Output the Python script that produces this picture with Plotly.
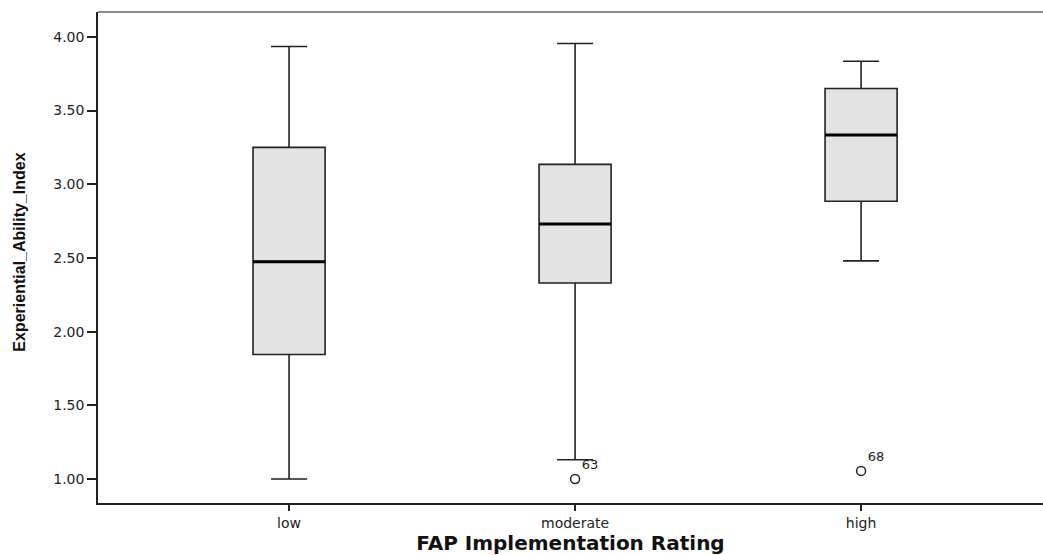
import plotly.graph_objects as go

categories = ["low", "moderate", "high"]
positions = [0, 1, 2]
lower_fence = [1.00, 1.13, 2.48]
q1 = [1.845, 2.33, 2.885]
median = [2.475, 2.73, 3.335]
q3 = [3.25, 3.135, 3.65]
upper_fence = [3.935, 3.955, 3.835]

outlier_pos = [1, 2]
outlier_vals = [1.00, 1.055]
outlier_ids = ["63", "68"]

box_w = 0.252

fig = go.Figure()
fig.add_trace(go.Box(
    x=positions, q1=q1, median=median, q3=q3,
    lowerfence=lower_fence, upperfence=upper_fence,
    width=box_w, whiskerwidth=0.5,
    fillcolor="#e3e3e3",
    line=dict(color="#222222", width=1.6),
    boxpoints=False, showlegend=False, hoverinfo="skip",
))

# thick median lines
for p, m in zip(positions, median):
    fig.add_trace(go.Scatter(
        x=[p - box_w / 2, p + box_w / 2], y=[m, m], mode="lines",
        line=dict(color="black", width=3), showlegend=False, hoverinfo="skip",
    ))

fig.add_trace(go.Scatter(
    x=outlier_pos, y=outlier_vals, mode="markers+text",
    marker=dict(symbol="circle-open", size=9, color="#222222", line=dict(width=1.5)),
    text=outlier_ids, textposition="top right",
    textfont=dict(family="DejaVu Sans, Arial, sans-serif", size=13, color="#222222"),
    showlegend=False, hoverinfo="skip",
))

fig.update_layout(
    width=1043, height=555,
    margin=dict(l=98, r=0, t=12, b=52),
    paper_bgcolor="white", plot_bgcolor="white",
    xaxis=dict(
        range=[-0.668, 2.636], tickmode="array", tickvals=positions, ticktext=categories,
        showgrid=False, zeroline=False, showline=True, linecolor="#222222", linewidth=1.5,
        ticks="outside", ticklen=6, tickwidth=1.5, tickcolor="#222222",
        tickfont=dict(family="DejaVu Sans, Arial, sans-serif", size=14, color="#222222"),
        title=dict(text="<b>FAP Implementation Rating</b>", standoff=10,
                   font=dict(family="DejaVu Sans, Verdana, sans-serif", size=20, color="#111111")),
    ),
    yaxis=dict(
        range=[0.837, 4.169], tickmode="array",
        tickvals=[1.0, 1.5, 2.0, 2.5, 3.0, 3.5, 4.0], tickformat=".2f",
        showgrid=False, zeroline=False, showline=True, linecolor="#222222", linewidth=1.5,
        ticks="outside", ticklen=9, tickwidth=1.5, tickcolor="#222222",
        tickfont=dict(family="DejaVu Sans, Arial, sans-serif", size=14, color="#222222"),
    ),
    annotations=[dict(
        text="<b>Experiential_Ability_Index</b>", xref="paper", yref="paper",
        x=-0.0825, y=0.51, xanchor="center", yanchor="middle", textangle=-90,
        showarrow=False,
        font=dict(family="Liberation Sans Narrow, Liberation Sans, Arial, sans-serif", size=16, color="#111111"),
    )],
    shapes=[dict(type="line", xref="paper", yref="paper", x0=0, x1=1, y0=1, y1=1,
                 line=dict(color="#8a8a8a", width=2))],
)

fig.write_html("out.html", config={"displayModeBar": False},
               post_script="document.body.style.margin='0';document.body.style.overflow='hidden';")
